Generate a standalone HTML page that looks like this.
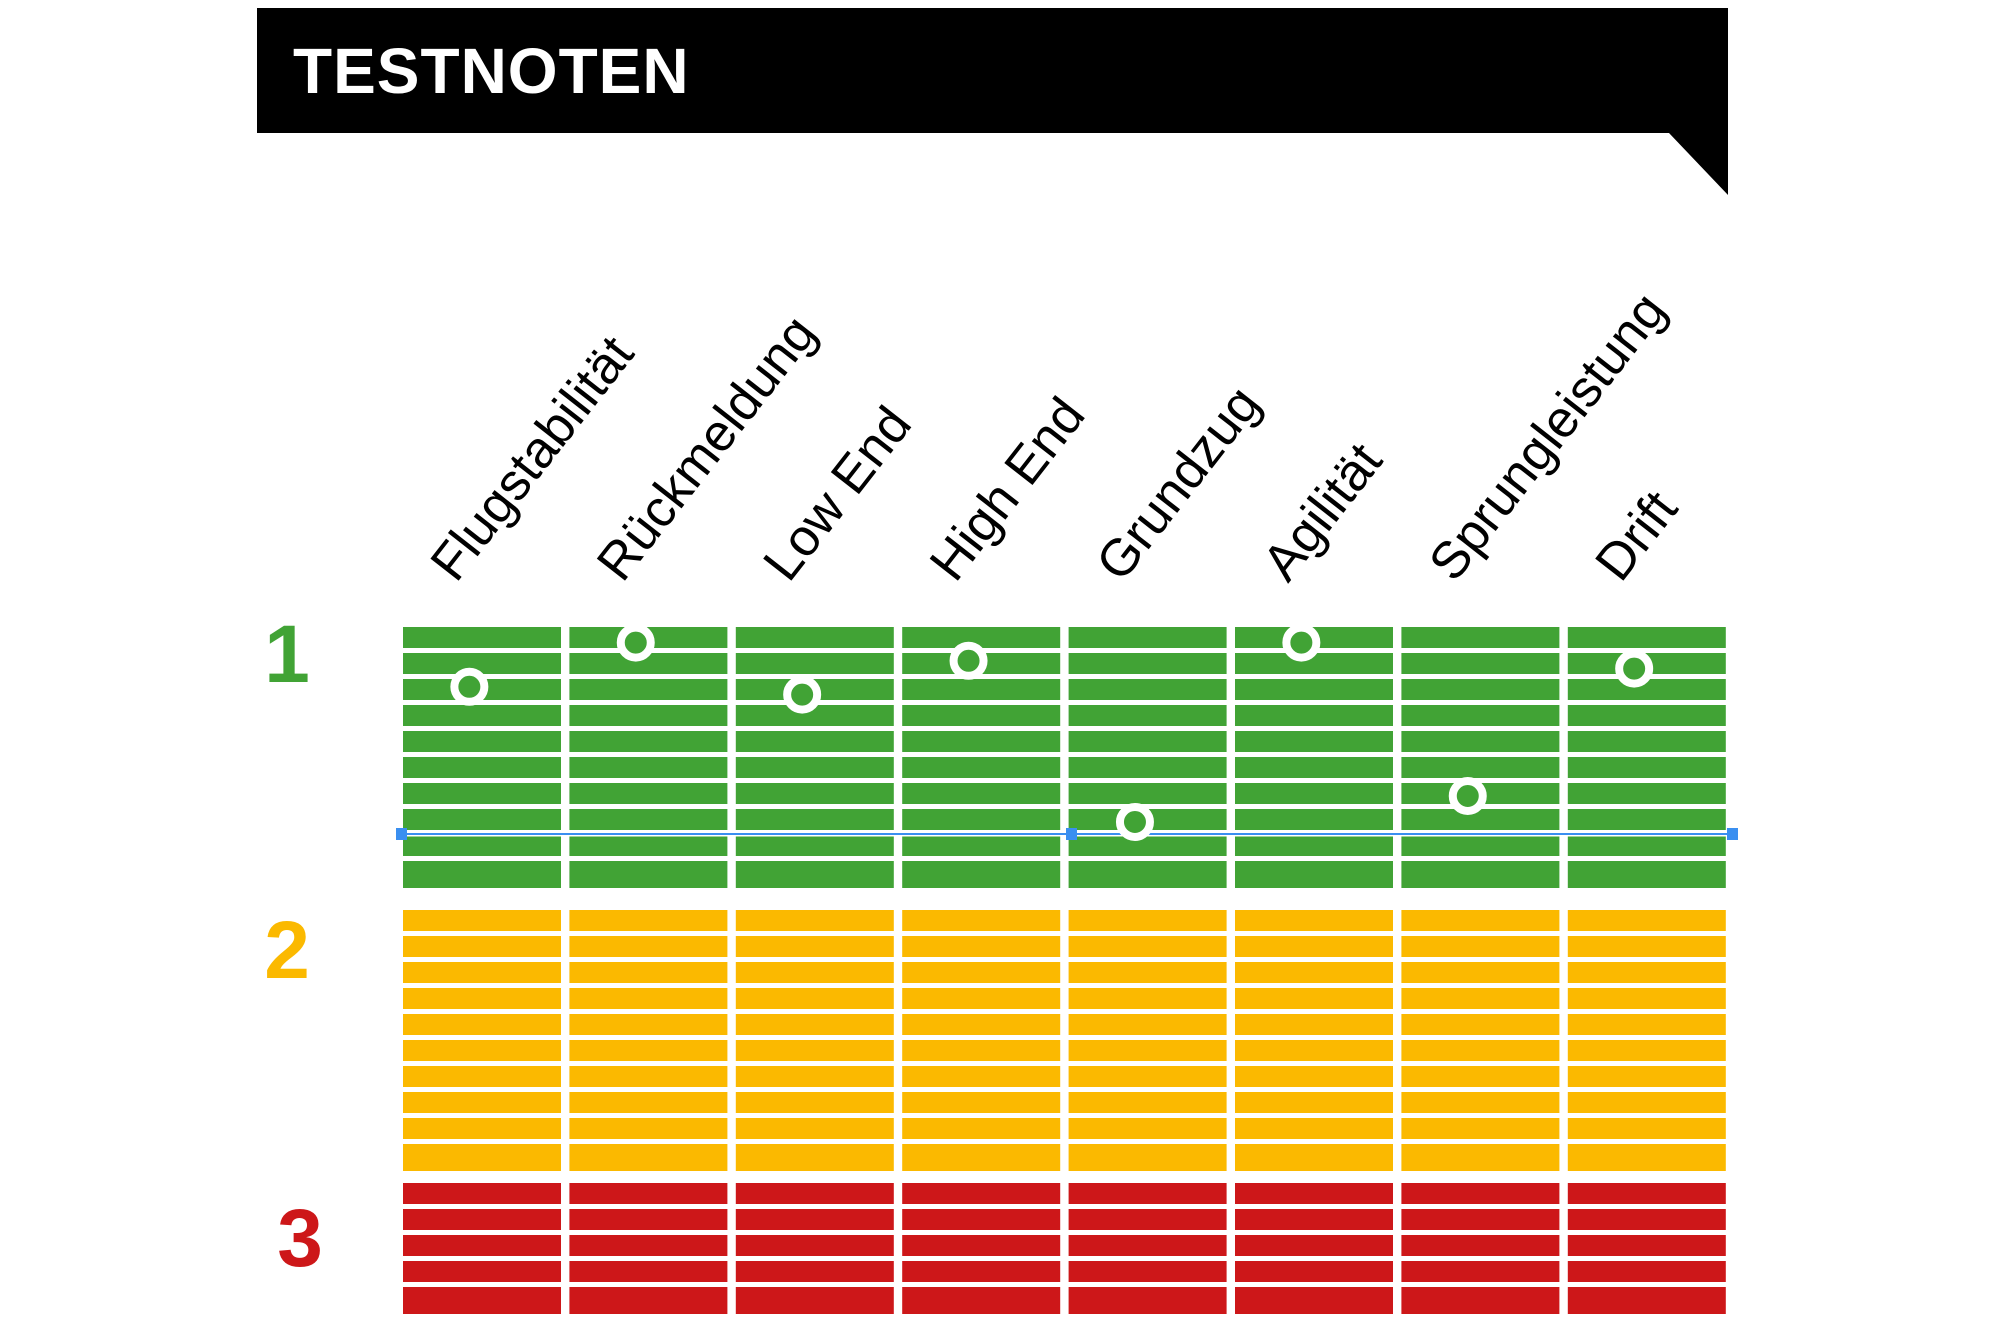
<!DOCTYPE html>
<html><head><meta charset="utf-8"><style>
html,body{margin:0;padding:0;background:#fff;}
svg{display:block;}
</style></head><body>
<svg id="chart" width="2000" height="1333" viewBox="0 0 2000 1333" xmlns="http://www.w3.org/2000/svg" font-family="'Liberation Sans', sans-serif">
  <g>
    <polygon points="257,8 1728,8 1728,195 1669,133 257,133" fill="#000"/>
    <text x="293" y="93" font-size="64" font-weight="bold" fill="#fff" letter-spacing="1">TESTNOTEN</text>
  </g>
  <g id="labels"></g>
  <g id="grades"></g>
  <g id="bars"></g>
  <g>
    <line x1="402" y1="834" x2="1732" y2="834" stroke="#fff" stroke-width="5"/>
    <line x1="402" y1="834" x2="1732" y2="834" stroke="#3a8ff0" stroke-width="2"/>
    <rect x="396" y="828" width="11" height="12" fill="#3a8ff0"/>
    <rect x="1066" y="828" width="11" height="12" fill="#3a8ff0"/>
    <rect x="1736" y="828" width="11" height="12" fill="#3a8ff0" transform="translate(-9,0)"/>
  </g>
  <g id="dots"></g>
</svg>
<script>
const categories = ["Flugstabilität","Rückmeldung","Low End","High End","Grundzug","Agilität","Sprungleistung","Drift"];
const scores = [1.23, 1.06, 1.26, 1.13, 1.75, 1.06, 1.65, 1.16];
const gradeLabels = ["1","2","3"];
const gradeSegments = [10, 10, 5];
const gradeColors = ["#41a335","#fbb900","#cd1719"];

const NS = "http://www.w3.org/2000/svg";
const colLeft = 403, colPitch = 166.4, colWidth = 158;
const groupTops = [627, 910, 1183];
const segPitch = 26, segH = 21;
const gradeSpan = 260; // pixels per 1.0 grade in green zone
function xCol(i){ return colLeft + i*colPitch; }
function yScore(g){ return groupTops[0] + (g-1)*gradeSpan; }

const bars = document.getElementById('bars');
gradeSegments.forEach((n, gi) => {
  for (let c = 0; c < categories.length; c++) {
    for (let s = 0; s < n; s++) {
      const r = document.createElementNS(NS, 'rect');
      
      
      const y = groupTops[gi] + s*segPitch;
      const h = (s === n-1) ? segH + 6 : segH;
      r.setAttribute('x', xCol(c));
      r.setAttribute('y', y);
      r.setAttribute('width', colWidth);
      r.setAttribute('height', h);
      r.setAttribute('fill', gradeColors[gi]);
      bars.appendChild(r);
    }
  }
});

const grades = document.getElementById('grades');
const gradeX = [287, 287, 300];
gradeLabels.forEach((g, gi) => {
  const n = gradeSegments[gi];
  const t = document.createElementNS(NS, 'text');
  
  
  t.setAttribute('x', gradeX[gi]);
  t.setAttribute('y', gi === 0 ? 682 : (gi === 1 ? 978 : 1266));
  t.setAttribute('text-anchor', 'middle');
  t.setAttribute('font-size', '82');
  t.setAttribute('font-weight', 'bold');
  t.setAttribute('fill', gradeColors[gi]);
  t.textContent = g;
  grades.appendChild(t);
});

const labels = document.getElementById('labels');
categories.forEach((name, i) => {
  const x = xCol(i) + 53, y = 584;
  const t = document.createElementNS(NS, 'text');
  
  
  t.setAttribute('x', x);
  t.setAttribute('y', y);
  t.setAttribute('font-size', '52');
  t.setAttribute('fill', '#000');
  t.setAttribute('transform', 'rotate(-52 ' + x + ' ' + y + ')');
  t.textContent = name;
  labels.appendChild(t);
});

const dots = document.getElementById('dots');
scores.forEach((v, i) => {
  const c = document.createElementNS(NS, 'circle');
  
  
  c.setAttribute('cx', xCol(i) + colWidth*0.42);
  c.setAttribute('cy', yScore(v));
  c.setAttribute('r', 15);
  c.setAttribute('fill', '#41a335');
  c.setAttribute('stroke', '#fff');
  c.setAttribute('stroke-width', 8);
  dots.appendChild(c);
});
</script>
</body></html>
